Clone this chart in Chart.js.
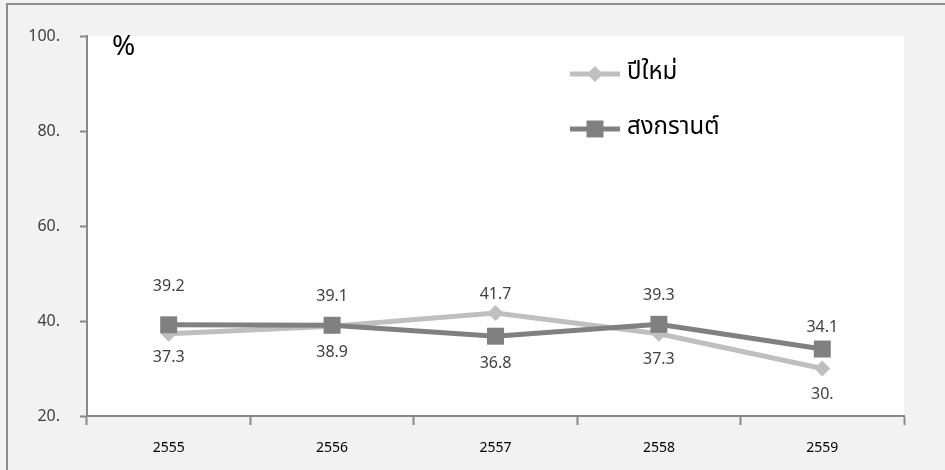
<!DOCTYPE html>
<html>
<head>
<meta charset="utf-8">
<script src="https://cdn.jsdelivr.net/npm/chart.js@4"></script>
<style>
html,body{margin:0;padding:0;background:#f2f2f2;}
#wrap{width:945px;height:470px;position:relative;}
</style>
</head>
<body>
<div id="wrap"><canvas id="c" width="945" height="470"></canvas></div>
<script>
const categories = ['2555', '2556', '2557', '2558', '2559'];
const seriesNames = ['ปีใหม่', 'สงกรานต์'];
const newYear = [37.3, 38.9, 41.7, 37.3, 30.0];
const songkran = [39.2, 39.1, 36.8, 39.3, 34.1];
const newYearLabels = ['37.3', '38.9', '41.7', '37.3', '30.'];
const songkranLabels = ['39.2', '39.1', '36.8', '39.3', '34.1'];
const yTicks = [20, 40, 60, 80, 100];
const yUnit = '%';

// label placement (pixel offset of each value label from its point)
const newYearLabelOffset = [24, 26, -18, 26, 26];
const songkranLabelOffset = [-38, -29, 27, -29, -22];

const FONT = '"Noto Sans", "Noto Sans Thai", "DejaVu Sans", sans-serif';
const LIGHT = '#bfbfbf';
const DARK = '#808080';
const AXIS = '#898989';

const bgPlugin = {
  id: 'bg',
  beforeDraw(chart) {
    const {ctx, chartArea: a} = chart;
    ctx.save();
    ctx.fillStyle = '#f2f2f2';
    ctx.fillRect(0, 0, chart.width, chart.height);
    ctx.fillStyle = '#ffffff';
    ctx.fillRect(a.left, a.top, a.right - a.left, a.bottom - a.top);
    ctx.strokeStyle = '#8c8c8c';
    ctx.lineWidth = 2;
    ctx.beginPath();
    ctx.moveTo(7, chart.height);
    ctx.lineTo(7, 4);
    ctx.lineTo(chart.width, 4);
    ctx.stroke();
    ctx.restore();
  }
};

const overlayPlugin = {
  id: 'overlay',
  afterDatasetsDraw(chart) {
    const {ctx, chartArea: a} = chart;
    ctx.save();
    // unit
    ctx.fillStyle = '#000';
    ctx.font = '28px ' + FONT;
    ctx.textAlign = 'left';
    ctx.textBaseline = 'middle';
    ctx.fillText(yUnit, a.left + 25, a.top + 11);

    // data labels
    ctx.font = '16px ' + FONT;
    ctx.fillStyle = '#404040';
    ctx.textAlign = 'center';
    const sets = [[newYearLabels, newYearLabelOffset, 0], [songkranLabels, songkranLabelOffset, 1]];
    sets.forEach(([labels, offs, di]) => {
      const meta = chart.getDatasetMeta(di);
      meta.data.forEach((pt, i) => {
        ctx.fillText(labels[i], pt.x, pt.y + offs[i]);
      });
    });

    // legend
    const lx = 570, lw = 50;
    const items = [
      {y: 74, color: LIGHT, style: 'rectRot', r: 8, text: seriesNames[0]},
      {y: 129, color: DARK, style: 'rect', r: 12, text: seriesNames[1]}
    ];
    items.forEach(it => {
      ctx.strokeStyle = it.color;
      ctx.lineWidth = 5;
      ctx.beginPath();
      ctx.moveTo(lx, it.y);
      ctx.lineTo(lx + lw, it.y);
      ctx.stroke();
      ctx.fillStyle = it.color;
      Chart.helpers.drawPoint(ctx, {pointStyle: it.style, radius: it.r, borderWidth: 0}, lx + lw / 2, it.y);
      ctx.fillStyle = '#000';
      ctx.font = '24px ' + FONT;
      ctx.textAlign = 'left';
      ctx.textBaseline = 'middle';
      ctx.fillText(it.text, lx + lw + 7, it.y - 2);
    });
    ctx.restore();
  }
};

new Chart(document.getElementById('c'), {
  type: 'line',
  data: {
    labels: categories,
    datasets: [
      {
        label: seriesNames[0],
        data: newYear,
        borderColor: LIGHT,
        backgroundColor: LIGHT,
        borderWidth: 5,
        pointStyle: 'rectRot',
        pointRadius: 8,
        pointBorderWidth: 0,
        tension: 0,
        order: 1
      },
      {
        label: seriesNames[1],
        data: songkran,
        borderColor: DARK,
        backgroundColor: DARK,
        borderWidth: 5,
        pointStyle: 'rect',
        pointRadius: 12,
        pointBorderWidth: 0,
        tension: 0,
        order: 0
      }
    ]
  },
  options: {
    responsive: false,
    animation: false,
    devicePixelRatio: 1,
    layout: {padding: {top: 36, right: 41, left: 0, bottom: 0}},
    plugins: {legend: {display: false}, tooltip: {enabled: false}},
    scales: {
      x: {
        offset: true,
        grid: {drawOnChartArea: false, drawTicks: true, tickLength: 9, tickWidth: 2, tickColor: AXIS, offset: true},
        border: {color: AXIS, width: 2},
        ticks: {color: '#000', font: {family: FONT, size: 14}, padding: 15, maxRotation: 0},
        afterFit(s) { s.height = 54; }
      },
      y: {
        min: 20, max: 100,
        afterBuildTicks(s) { s.ticks = yTicks.map(v => ({value: v})); },
        grid: {drawOnChartArea: false, drawTicks: true, tickLength: 7, tickWidth: 2, tickColor: AXIS},
        border: {color: AXIS, width: 2},
        ticks: {color: '#404040', font: {family: FONT, size: 16}, padding: 20, callback: v => v + '.'},
        afterFit(s) { s.width = 87; }
      }
    }
  },
  plugins: [bgPlugin, overlayPlugin]
});
</script>
</body>
</html>
